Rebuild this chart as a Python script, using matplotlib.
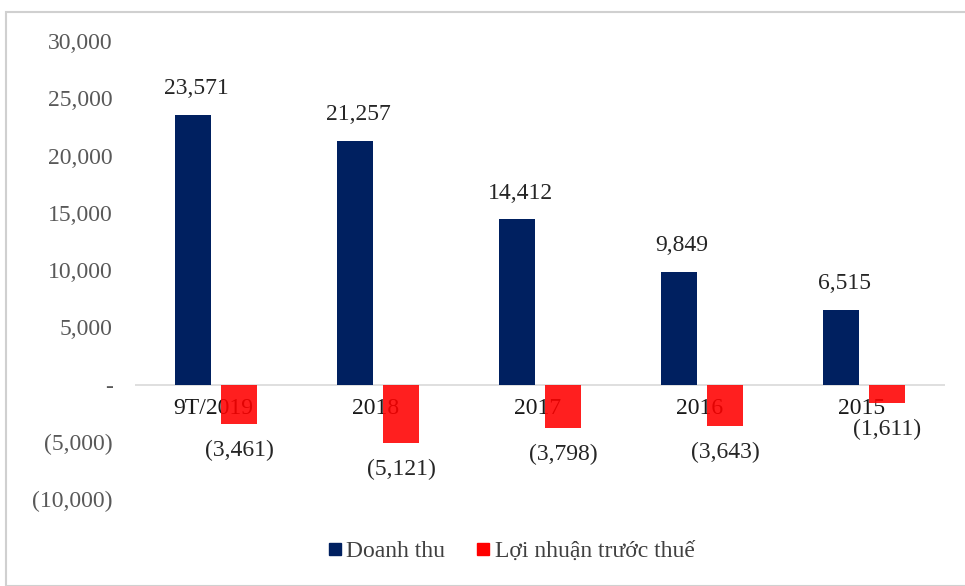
import matplotlib
matplotlib.use("Agg")
import matplotlib.pyplot as plt
from matplotlib.patches import Rectangle
from matplotlib.lines import Line2D
import numpy as np

categories = ["9T/2019", "2018", "2017", "2016", "2015"]
doanh_thu = [23571, 21257, 14412, 9849, 6515]
loi_nhuan = [-3461, -5121, -3798, -3643, -1611]
yticks = [30000, 25000, 20000, 15000, 10000, 5000, 0, -5000, -10000]
series_names = ["Doanh thu", "Lợi nhuận trước thuế"]

plt.rcParams['font.family'] = ['Liberation Serif', 'DejaVu Serif']

fig = plt.figure(figsize=(9.65, 5.86), dpi=100)
# outer frame
fig.patches.append(Rectangle((6/965, 0), 1, 1 - 12/586, transform=fig.transFigure,
                             fill=False, edgecolor="#d0d0d0", linewidth=1.5))

ax = fig.add_axes([135/965, 1 - 499/586, 810/965, (499 - 41)/586])
x = np.arange(len(categories))
w = 0.222
off = 0.142
navy = "#002060"
red = "#FF0000"
ax.bar(x - off, doanh_thu, w, color=navy, zorder=3)
ax.bar(x + off, loi_nhuan, w, color=red, alpha=0.88, linewidth=0, zorder=3)
ax.axhline(0, color="#d9d9d9", linewidth=1.2, zorder=2)

ax.set_xlim(-0.5, len(categories) - 0.5)
ax.set_ylim(-10000, 30000)
ax.set_yticks(yticks)

def fmt(v):
    if v == 0:
        return "-"
    if v < 0:
        return "({:,})".format(-v)
    return "{:,}".format(v)

ax.set_yticklabels([fmt(v) for v in yticks], fontsize=17, color="#595959")
ax.tick_params(axis='y', length=0, pad=16)
ax.set_xticks([])
for s in ax.spines.values():
    s.set_visible(False)

for i, c in enumerate(categories):
    ax.annotate(c, (i, 0), xytext=(-2, -17), textcoords="offset points",
                ha="center", va="center", fontsize=17, color="#1a1a1a", zorder=1)

for i, v in enumerate(doanh_thu):
    ax.annotate(fmt(v), (i - off + 0.02, v), xytext=(0, 19), textcoords="offset points",
                ha="center", va="center", fontsize=17, color="#262626")
for i, v in enumerate(loi_nhuan):
    ax.annotate(fmt(v), (i + off, v), xytext=(0, -19), textcoords="offset points",
                ha="center", va="center", fontsize=17, color="#262626")

handles = [Line2D([], [], marker="s", linestyle="none", markersize=8, color=navy),
           Line2D([], [], marker="s", linestyle="none", markersize=8, color=red)]
fig.legend(handles, series_names, loc="center", bbox_to_anchor=(510/965, 1 - 551/586),
           ncol=2, frameon=False, fontsize=17, labelcolor="#404040",
           handletextpad=0.1, columnspacing=1.2, handlelength=0.8)

fig.savefig("out.png", dpi=100)
